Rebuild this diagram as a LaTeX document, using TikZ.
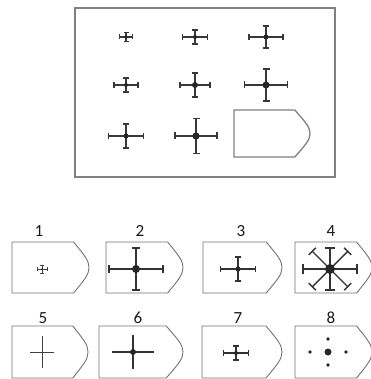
\documentclass[tikz,border=0pt]{standalone}
\usepackage{fontspec}
\setmainfont{Carlito}
\usetikzlibrary{calc}
\tikzset{
  frame/.style={draw=black!50, line width=1.3pt},
  optshape/.style={draw=black!55, line width=0.9pt},
  crossline/.style={draw=black!78, line width=1.9pt},
  thincross/.style={draw=black!80, line width=1.4pt},
  lbl/.style={font=\fontsize{17}{17}\selectfont, text=black!90, inner sep=0pt}
}
% serif cross: x, y, half-h, half-v, dot radius, serif half, style
\newcommand{\sercross}[7]{%
  \begin{scope}[shift={(#1,#2)}]
    \draw[#7] (-#3,0) -- (#3,0);
    \draw[#7] (0,-#4) -- (0,#4);
    \draw[#7] (-#3,-#6) -- (-#3,#6);
    \draw[#7] (#3,-#6) -- (#3,#6);
    \draw[#7] (-#6,-#4) -- (#6,-#4);
    \draw[#7] (-#6,#4) -- (#6,#4);
    \fill[black!85] (0,0) circle (#5);
  \end{scope}}
% pentagon-like card: left x, top y, width, height
\newcommand{\card}[5]{%
  \draw[#5] (#1,#2) -- ++(0.8*#3,0)
     .. controls ++(0.14*#3,0.26*#4) and ++(0,-0.14*#4) .. ++(0.2*#3,0.5*#4)
     .. controls ++(0,0.14*#4) and ++(0.14*#3,-0.26*#4) .. ++(-0.2*#3,0.5*#4)
     -- ++(-0.8*#3,0) -- cycle;}
\begin{document}
\begin{tikzpicture}[x=1pt,y=-1pt]
\useasboundingbox (0,0) rectangle (370,379);
\fill[white] (0,0) rectangle (370,379);
% main frame
\draw[frame] (75,8) rectangle (335,177);
% matrix
\sercross{126}{37}{6.5}{4.5}{1.6}{2.5}{crossline}
\sercross{195}{37}{12.5}{6.7}{2}{3}{crossline}
\sercross{266}{37}{17}{11}{2.5}{3.2}{crossline}
\sercross{126}{85}{12}{7.3}{2}{3}{crossline}
\sercross{195}{85}{15}{12.3}{3}{3.2}{crossline}
\sercross{266}{85}{21.5}{16.3}{3.5}{3.5}{crossline}
\sercross{126}{136}{17.5}{12}{2.6}{3.2}{crossline}
\sercross{196}{136}{21}{17.5}{3.6}{3.5}{crossline}
\card{234}{110}{76}{47}{frame}
% options row 1
\node[lbl] (l1) at (39,231) {1};
\node[lbl] (l2) at (140,231) {2};
\node[lbl] (l3) at (241,231) {3};
\node[lbl] (l4) at (331,231) {4};
\card{12}{242}{77}{51}{optshape}
\card{106}{242}{77}{51}{optshape}
\card{203}{242}{79}{51}{optshape}
\card{295}{242}{77}{51}{optshape}
\sercross{42}{269}{5}{4}{1}{2}{draw=black!75, line width=0.9pt}
\sercross{136}{269}{27}{21}{4}{4}{thincross}
\sercross{238}{269}{17.5}{12}{2.6}{3.2}{thincross}
% option 4: star
\begin{scope}[shift={(330,269)}]
  \draw[thincross] (-27,0) -- (27,0);
  \draw[thincross] (-27,-5) -- (-27,5);
  \draw[thincross] (27,-5) -- (27,5);
  \draw[thincross] (0,-21) -- (0,21);
  \draw[thincross] (-5,-21) -- (5,-21);
  \draw[thincross] (-5,21) -- (5,21);
  \foreach \a in {45,135,225,315}{
    \draw[thincross] (0,0) -- (\a:25);
    \draw[thincross] ($(\a:25)+(\a+90:5)$) -- ($(\a:25)+(\a-90:5)$);
  }
  \fill[black!85] (0,0) circle (5);
\end{scope}
% options row 2
\node[lbl] (l5) at (43,318) {5};
\node[lbl] (l6) at (138,318) {6};
\node[lbl] (l7) at (238,318) {7};
\node[lbl] (l8) at (331,318) {8};
\card{12}{326}{76}{52}{optshape}
\card{99}{326}{84}{52}{optshape}
\card{202}{326}{80}{52}{optshape}
\card{295}{326}{77}{52}{optshape}
\draw[black!75, line width=1pt] (30,352) -- (54,352) (42,336) -- (42,368);
\draw[thincross] (112,352) -- (154,352) (133,335) -- (133,369);
\fill[black!85] (133,352) circle (3);
\sercross{236}{353}{12.5}{7}{2}{3}{draw=black!80, line width=1.1pt}
\fill[black!85] (328,352) circle (3.5);
\fill[black!85] (310,352) circle (1.8);
\fill[black!85] (346,352) circle (1.8);
\fill[black!85] (328,339) circle (1.8);
\fill[black!85] (328,365) circle (1.8);
\end{tikzpicture}
\end{document}
